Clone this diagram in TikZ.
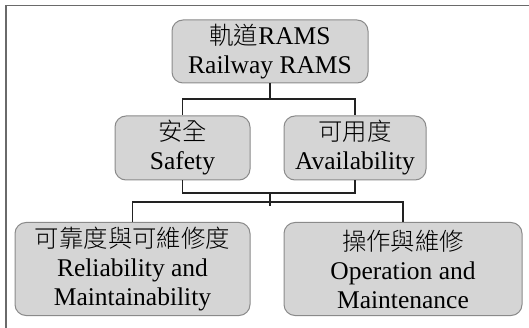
\documentclass[tikz,border=0pt]{standalone}
\usepackage{fontspec}
\setmainfont{Liberation Serif}
\newfontfamily\cjk[UprightFont={* Light}]{Noto Sans CJK TC}
\definecolor{boxfill}{HTML}{D5D5D5}
\definecolor{boxline}{HTML}{8A8A8A}
\definecolor{frameline}{HTML}{6A6A6A}
\definecolor{linkline}{HTML}{222222}
\newcommand{\cj}[1]{{\cjk\fontsize{24.4}{29}\selectfont #1}}
\begin{document}
\begin{tikzpicture}[x=1pt,y=-1pt,
  box/.style={draw=boxline, fill=boxfill, line width=1pt, rounded corners=11pt,
    align=center, inner sep=0pt, text=black,
    font=\fontsize{25.5}{29}\selectfont},
  link/.style={draw=linkline, line width=1.4pt}]
\useasboundingbox (0,0) rectangle (529,328);
\draw[frameline, line width=1.6pt] (529,5.5) -- (6,5.5) -- (6,328);

\node[box, minimum width=196pt, minimum height=63pt] (top) at (270,51.5)
  {\cj{軌道}RAMS\\Railway RAMS};
\node[box, minimum width=135pt, minimum height=64pt] (safe) at (182.5,148)
  {\cj{安全}\\Safety};
\node[box, minimum width=142pt, minimum height=64pt] (avail) at (355,148)
  {\cj{可用度}\\Availability};
\node[box, minimum width=235pt, minimum height=93pt] (rm) at (132.5,269)
  {\cj{可靠度與可維修度}\\Reliability and\\Maintainability};
\node[box, minimum width=238pt, minimum height=93pt] (om) at (403,269)
  {\cj{操作與維修}\\Operation and\\Maintenance};

\coordinate (j1) at (270,99);
\coordinate (j2) at (270,193);
\coordinate (j3) at (270,202);
\coordinate (j4) at (270,206);

\draw[link] (top.south) -- (j1);
\draw[link] (j1) -| (safe.north);
\draw[link] (j1) -| (avail.north);
\draw[link] (safe.south) |- (j2);
\draw[link] (avail.south) |- (j2);
\draw[link] (j2) -- (j4);
\draw[link] (j3) -| (rm.north);
\draw[link] (j3) -| (om.north);
\end{tikzpicture}
\end{document}
